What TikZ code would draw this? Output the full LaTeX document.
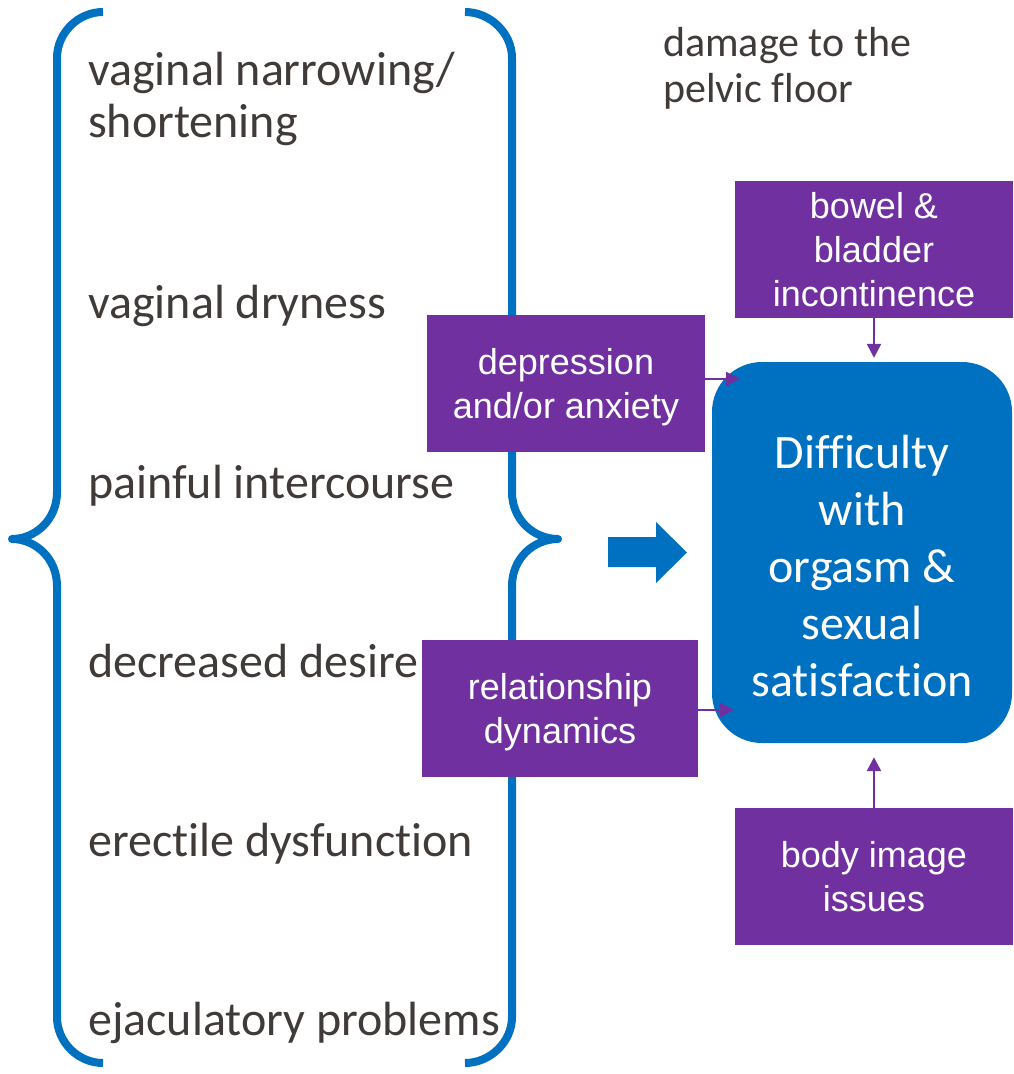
\documentclass[tikz,border=0pt]{standalone}
\usepackage{fontspec}
\setmainfont{Carlito}[Ligatures=NoCommon]
\newfontfamily\boxfont{Liberation Sans}
\usetikzlibrary{arrows.meta}

\definecolor{msblue}{HTML}{0070C0}
\definecolor{mspurple}{HTML}{7030A0}
\definecolor{mstext}{HTML}{403B38}

\tikzset{
  symptom/.style={anchor=base west, text=mstext, inner sep=0pt, align=left,
    font=\fontsize{48}{52}\selectfont},
  factor/.style={fill=mspurple, text=white, align=center, inner sep=0pt,
    minimum width=278pt, minimum height=137pt, text depth=-6pt,
    font=\boxfont\fontsize{36}{44}\selectfont},
  conn/.style={draw=mspurple, line width=2.5pt, -{Triangle[length=14pt,width=14pt]}},
  brace/.style={draw=msblue, line width=8pt, line join=round}
}

\begin{document}
\begin{tikzpicture}[x=1pt,y=-1pt]
    \useasboundingbox (0,0) rectangle (1014,1074);
    % braces round the list of symptoms
    \draw[brace] (103,12) .. controls (78,12) and (57,33) .. (57,58)
      -- (57,492) .. controls (57,520) and (35,539) .. (12,539)
      .. controls (35,539) and (57,558) .. (57,586)
      -- (57,1017) .. controls (57,1042) and (78,1063) .. (103,1063);
    \draw[brace] (465,12) .. controls (490,12) and (512,33) .. (512,58)
      -- (512,492) .. controls (512,520) and (534,539) .. (558,539)
      .. controls (534,539) and (512,558) .. (512,586)
      -- (512,1017) .. controls (512,1042) and (490,1063) .. (465,1063);
    %
    \node[symptom] (narrow) at (88,137) {vaginal narrowing/\\shortening};
    \node[symptom] (dry) at (88,318) {vaginal dryness};
    \node[symptom] (pain) at (88,498) {painful intercourse};
    \node[symptom] (desire) at (88,677) {decreased desire};
    \node[symptom] (erect) at (88,856) {erectile dysfunction};
    \node[symptom] (ejac) at (88,1035) {ejaculatory problems};
    %
    \node[anchor=north west, text=mstext, inner sep=0pt, align=left,
      font=\fontsize{42}{46}\selectfont] (pelvic) at (663,27)
      {damage to the\\pelvic floor};
    %
    \fill[msblue] (608,537) -- (656,537) -- (656,522) -- (687,552.5)
      -- (656,583) -- (656,567) -- (608,567) -- cycle;
    %
    \node[fill=msblue, rounded corners=50pt, minimum width=300pt,
      minimum height=381pt, inner sep=0pt] (diff) at (862,552.5) {};
    \node[text=white, align=center, inner sep=0pt,
      font=\fontsize{48}{57}\selectfont] (difftext) at (862,566)
      {Difficulty\\with\\orgasm \&\\sexual\\satisfaction};
    %
    \node[factor] (bowel) at (874,249) {bowel \&\\bladder\\incontinence};
    \node[factor] (depr) at (566,383.5) {depression\\and/or anxiety};
    \node[factor, minimum width=276pt] (relat) at (560,708.5)
      {relationship\\dynamics};
    \node[factor] (body) at (874,876.5) {body image\\issues};
    %
    \coordinate (deprend) at (740,379);
    \coordinate (relatend) at (734,710);
    \draw[conn] (depr.east |- deprend) -- (deprend);
    \draw[conn] (relat.east |- relatend) -- (relatend);
    \draw[conn] (bowel.south) -- ([yshift=4pt]diff.north -| bowel.south);
    \draw[conn] ([yshift=-7pt]body.north) -- ([yshift=-14pt]diff.south -| body.north);
  \end{tikzpicture}
\end{document}
